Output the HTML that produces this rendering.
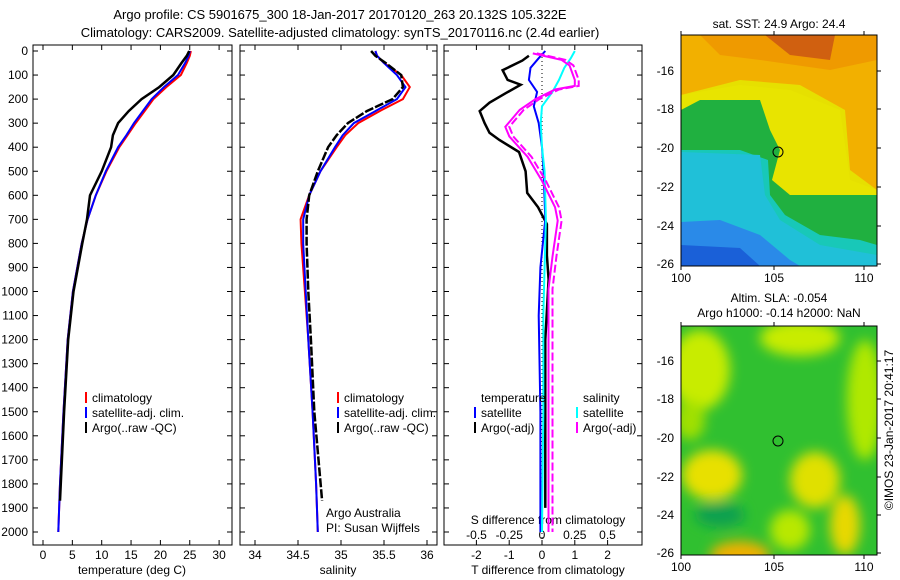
<!DOCTYPE html>
<html><head><meta charset="utf-8"><style>
body{margin:0;background:#fff}
svg{display:block;font-family:"Liberation Sans",sans-serif}
</style></head><body>
<svg id="c" width="900" height="580" viewBox="0 0 900 580">
<rect width="900" height="580" fill="#fff"/>
<text x="340" y="19" font-size="13" text-anchor="middle">Argo profile: CS 5901675_300 18-Jan-2017 20170120_263 20.132S 105.322E</text>
<text x="340" y="37" font-size="13" text-anchor="middle">Climatology: CARS2009. Satellite-adjusted climatology: synTS_20170116.nc (2.4d earlier)</text>

<!-- map 1 -->
<g>
<text x="779" y="28" font-size="12" text-anchor="middle">sat. SST: 24.9 Argo: 24.4</text>
<clipPath id="m1"><rect x="681" y="35" width="196" height="231"/></clipPath>
<g clip-path="url(#m1)">
<rect x="681" y="35" width="196" height="231" fill="#e6e000"/>
<polygon points="681,35 877,35 877,190 850,170 845,110 800,85 740,80 681,95" fill="#f2b000"/>
<polygon points="700,35 877,35 877,60 830,70 760,60 720,55" fill="#ef9a00"/>
<polygon points="765,35 835,35 830,60 790,55" fill="#d06010"/>
<polygon points="681,95 740,85 790,90 840,110 850,180 877,190 877,200 681,200" fill="#e8e400"/>
<polygon points="681,110 700,100 760,100 770,130 780,150 772,180 790,195 877,195 877,266 681,266" fill="#20b040"/>
<polygon points="681,150 700,150 740,150 768,160 770,195 785,215 820,235 860,240 877,245 877,266 681,266" fill="#18c8b8"/>
<polygon points="681,152 760,155 765,195 780,220 820,245 877,255 877,266 681,266" fill="#20c0d8"/>
<polygon points="681,222 720,220 760,235 790,260 800,266 681,266" fill="#2a8ae8"/>
<polygon points="681,245 740,248 760,266 681,266" fill="#1a60d8"/>
</g>
<rect x="681" y="35" width="196" height="231" fill="none" stroke="#000"/>
<circle cx="778" cy="152" r="5" fill="none" stroke="#000"/>
<g id="m1ticks" font-size="12"></g>
</g>

<!-- map 2 -->
<g>
<text x="779" y="302" font-size="12" text-anchor="middle">Altim. SLA: -0.054</text>
<text x="779" y="317" font-size="12" text-anchor="middle">Argo h1000: -0.14 h2000: NaN</text>
<clipPath id="m2"><rect x="681" y="326" width="196" height="229"/></clipPath>
<filter id="bl"><feGaussianBlur stdDeviation="6"/></filter>
<g clip-path="url(#m2)">
<rect x="681" y="326" width="196" height="229" fill="#30c030"/>
<g filter="url(#bl)">
<ellipse cx="700" cy="370" rx="30" ry="40" fill="#c8ec00"/>
<ellipse cx="800" cy="338" rx="40" ry="18" fill="#c8ec00"/>
<ellipse cx="865" cy="400" rx="18" ry="60" fill="#b0e800"/>
<ellipse cx="712" cy="475" rx="30" ry="25" fill="#e8e000"/>
<ellipse cx="815" cy="480" rx="25" ry="28" fill="#e0e000"/>
<ellipse cx="845" cy="525" rx="15" ry="30" fill="#e8d800"/>
<ellipse cx="740" cy="555" rx="30" ry="14" fill="#f0b000"/>
<ellipse cx="790" cy="530" rx="20" ry="20" fill="#b8e800"/>
<ellipse cx="690" cy="420" rx="15" ry="20" fill="#a0e000"/>
<ellipse cx="720" cy="515" rx="25" ry="12" fill="#10a050"/>
</g>
</g>
<rect x="681" y="326" width="196" height="229" fill="none" stroke="#000"/>
<circle cx="778" cy="441" r="5" fill="none" stroke="#000"/>
<g id="m2ticks" font-size="12"></g>
<text transform="translate(893,430) rotate(-90)" font-size="12" text-anchor="middle">©IMOS 23-Jan-2017 20:41:17</text>
</g>

<g id="panels"></g>
</svg>
<script>
// ---- data ----
const depthTicks=[0,100,200,300,400,500,600,700,800,900,1000,1100,1200,1300,1400,1500,1600,1700,1800,1900,2000];
const tempTicks=[0,5,10,15,20,25,30];
const salTicks=[34,34.5,35,35.5,36];
const tdiffTicks=[-2,-1,0,1,2];
const sdiffTicks=[-0.5,-0.25,0,0.25,0.5];
const sdiffLabels=["-0.5","-0.25","0","0.25","0.5"];
const tDepth=[0,20,50,100,150,200,250,300,350,400,500,600,700,800,1000,1200,1500,1800,2000];
const tClim=[25.2,25.0,24.5,23.5,21.0,18.8,17.3,15.8,14.4,13.0,10.8,9.0,7.6,6.6,5.1,4.2,3.5,2.9,2.6];
const tSat=[25.0,24.8,24.2,23.0,20.6,18.5,17.0,15.5,14.2,12.8,10.7,9.0,7.6,6.6,5.1,4.2,3.5,2.9,2.6];
const argoDepth=[0,20,50,100,150,200,250,300,350,400,500,600,700,800,1000,1200,1500,1870];
const tArgo=[24.9,24.5,23.6,22.2,19.8,16.8,14.6,12.8,11.9,11.6,10.0,8.0,7.5,6.7,5.2,4.3,3.6,2.9];
const sClim=[35.4,35.42,35.5,35.7,35.8,35.72,35.45,35.2,35.05,34.95,34.76,34.63,34.53,34.54,34.58,34.62,34.67,34.71,34.73];
const sSat=[35.4,35.42,35.5,35.65,35.75,35.65,35.4,35.15,35.02,34.93,34.76,34.63,34.56,34.56,34.59,34.62,34.67,34.71,34.73];
const sArgo=[35.35,35.4,35.52,35.7,35.72,35.6,35.3,35.08,34.95,34.85,34.73,34.63,34.6,34.6,34.62,34.65,34.69,34.78];
const dDepth=[20,40,80,120,140,175,215,250,300,340,370,420,500,590,650,720,850,950,1200,1500,1900];
const dtArgo=[-0.4,-0.6,-1.2,-1.05,-0.65,-1.1,-1.6,-1.9,-1.75,-1.6,-1.3,-0.7,-0.5,-0.45,-0.12,0.15,0.15,0.2,0.1,0.1,0.1];
const satDepth=[0,30,70,120,170,230,300,400,500,700,900,1100,1500,2000];
const dtSat=[0.1,-0.1,-0.35,-0.4,-0.15,-0.25,-0.1,0,0.05,0.1,-0.05,-0.1,-0.05,-0.05];
const dsSat=[0.25,0.22,0.17,0.13,0.08,0.0,-0.01,0.0,0.02,0.03,0.02,0.01,0.01,0.0];
const dsDepth=[10,37,60,120,145,160,200,245,315,355,440,540,650,705,855,990,1500,2000];
const dsArgo=[-0.07,0.15,0.21,0.25,0.25,0.1,-0.05,-0.17,-0.28,-0.25,-0.11,0.0,0.1,0.12,0.08,0.05,0.05,0.05];

const NS='http://www.w3.org/2000/svg';
const root=document.getElementById('panels');
function mk(tag,attrs,parent){const e=document.createElementNS(NS,tag);for(const k in attrs)e.setAttribute(k,attrs[k]);(parent||root).appendChild(e);return e;}
const TOP=45,BOT=545;
const yD=d=>51+d*0.2405;
function line(xs,ds,fx,color,name,w,dash){
  const p=mk('polyline',{points:xs.map((v,i)=>fx(v).toFixed(1)+','+yD(ds[i]).toFixed(1)).join(' '),fill:'none',stroke:color,'stroke-width':w||2});
  if(dash)p.setAttribute('stroke-dasharray',dash);
  
  
}
function frame(x0,x1,name){
  const r=mk('rect',{x:x0,y:TOP,width:x1-x0,height:BOT-TOP,fill:'none',stroke:'#000'});
  
  
  depthTicks.forEach(d=>{mk('line',{x1:x0,x2:x0+5,y1:yD(d),y2:yD(d),stroke:'#000'});mk('line',{x1:x1,x2:x1-5,y1:yD(d),y2:yD(d),stroke:'#000'});});
}
function xticks(ticks,fx,x0,labels){
  ticks.forEach((t,i)=>{const x=fx(t);
    mk('line',{x1:x,x2:x,y1:BOT,y2:BOT-5,stroke:'#000'});mk('line',{x1:x,x2:x,y1:TOP,y2:TOP+5,stroke:'#000'});
    const tx=mk('text',{x:x,y:BOT+14,'font-size':12,'text-anchor':'middle'});tx.textContent=labels?labels[i]:String(t);
    
    
  });
}
function label(x,y,s,name,anchor){const t=mk('text',{x:x,y:y,'font-size':12,'text-anchor':anchor||'middle'});t.textContent=s;
  
  return t;}
function legend(x,y,items){items.forEach((it,i)=>{mk('line',{x1:x,x2:x,y1:y+i*15-10,y2:y+i*15+1,stroke:it[0],'stroke-width':2});
  const t=label(x+6,y+i*15,it[1],'legend-entry','start');});}

// panel 1 temperature
const fT=t=>43+t*5.87;
frame(33,232,'temperature-panel');
depthTicks.forEach(d=>label(28,yD(d)+4,String(d),'y-tick-label','end'));
xticks(tempTicks,fT);
label(132,574,'temperature (deg C)','x-axis-title-temperature');
line(tClim,tDepth,fT,'#f00','temp-climatology');
line(tSat,tDepth,fT,'#00f','temp-satellite-clim');
line(tArgo,argoDepth,fT,'#000','temp-argo',2.5);
legend(86,402,[['#f00','climatology'],['#00f','satellite-adj. clim.'],['#000','Argo(..raw -QC)']]);

// panel 2 salinity
const fS=s=>255+(s-34)*86;
frame(240,437,'salinity-panel');
xticks(salTicks,fS);
label(338,574,'salinity','x-axis-title-salinity');
line(sClim,tDepth,fS,'#f00','sal-climatology');
line(sSat,tDepth,fS,'#00f','sal-satellite-clim');
line(sArgo,argoDepth,fS,'#000','sal-argo',2.5,'9 2');
legend(338,402,[['#f00','climatology'],['#00f','satellite-adj. clim.'],['#000','Argo(..raw -QC)']]);
label(326,517,'Argo Australia','credit-argo-australia','start');
label(326,532,'PI: Susan Wijffels','credit-pi','start');

// panel 3 differences
const fdT=t=>542+t*32.8;
const fdS=s=>542+s*131;
frame(444,642,'difference-panel');
mk('line',{x1:542,x2:542,y1:TOP,y2:BOT,stroke:'#000','stroke-dasharray':'1 3'});
xticks(tdiffTicks,fdT);
label(548,574,'T difference from climatology','x-axis-title-tdiff');
label(548,524,'S difference from climatology','sdiff-title');
sdiffTicks.forEach((s,i)=>label(fdS(s),539,sdiffLabels[i],'sdiff-tick-label'));
line(dtArgo,dDepth,fdT,'#000','tdiff-argo',2.5);
line(dtSat,satDepth,fdT,'#00f','tdiff-satellite');
line(dsSat,satDepth,fdS,'#0ff','sdiff-satellite');
line(dsArgo,dsDepth,fdS,'#f0f','sdiff-argo');
line(dsArgo.map(v=>v+0.03),dsDepth,fdS,'#f0f','sdiff-argo-raw',2,'8 3');
label(481,402,'temperature','legend-temperature-heading','start');
label(583,402,'salinity','legend-salinity-heading','start');
legend(475,417,[['#00f','satellite'],['#000','Argo(-adj)']]);
legend(577,417,[['#0ff','satellite'],['#f0f','Argo(-adj)']]);

// map ticks
function mapTicks(gid,top,bot,yLabels,yPos){
  const g=document.getElementById(gid);
  [[100,681],[105,774],[110,864]].forEach(([v,x])=>{
    mk('line',{x1:x,x2:x,y1:bot,y2:bot+4,stroke:'#000'},g);mk('line',{x1:x,x2:x,y1:top,y2:top-4,stroke:'#000'},g);
    const t=mk('text',{x:x,y:bot+16,'text-anchor':'middle'},g);t.textContent=v;
    
    });
  yLabels.forEach((v,i)=>{const y=yPos[i];
    mk('line',{x1:877,x2:881,y1:y,y2:y,stroke:'#000'},g);
    const t=mk('text',{x:674,y:y+4,'text-anchor':'end'},g);t.textContent=v;
    
    });
}
mapTicks('m1ticks',35,266,['-16','-18','-20','-22','-24','-26'],[71,109,148,187,226,264]);
mapTicks('m2ticks',326,555,['-16','-18','-20','-22','-24','-26'],[361,399,438,477,515,553]);
</script>
</body></html>
